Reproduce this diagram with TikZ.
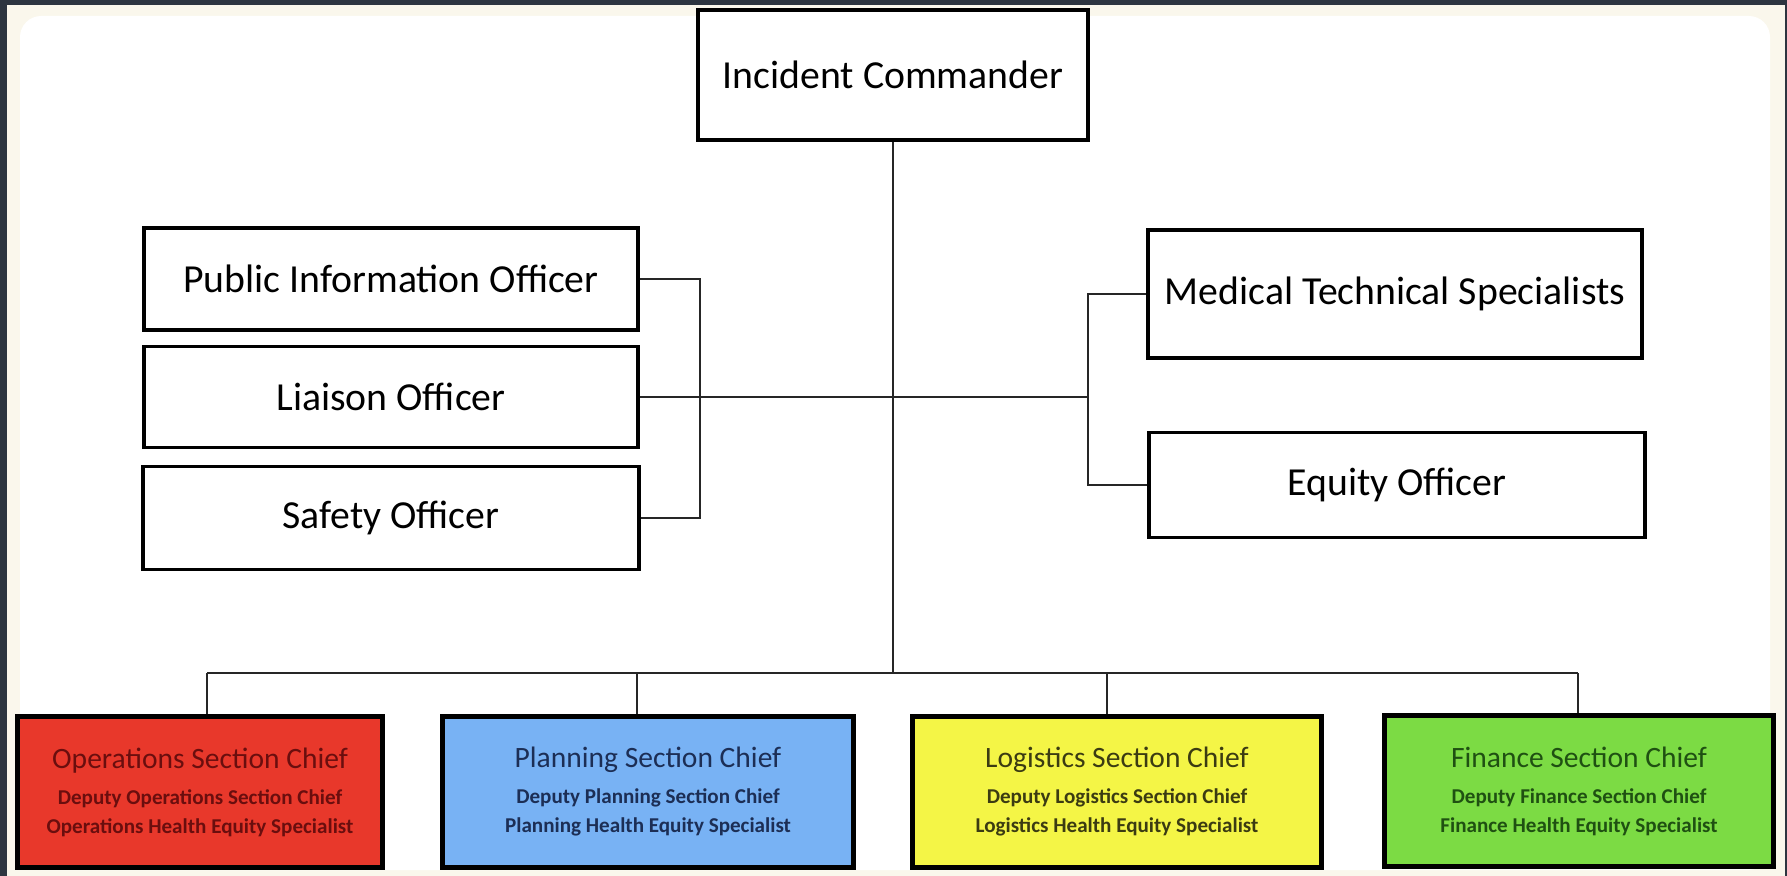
\documentclass[tikz,border=0pt]{standalone}
\usepackage{fontspec}
\setmainfont{Carlito}

\definecolor{frame}{HTML}{2D3540}
\definecolor{paper}{HTML}{FAF7EC}
\definecolor{opsfill}{HTML}{E8382B}
\definecolor{opstext}{HTML}{6A0E0E}
\definecolor{planfill}{HTML}{78B2F4}
\definecolor{plantext}{HTML}{1C2E55}
\definecolor{logfill}{HTML}{F4F546}
\definecolor{logtext}{HTML}{3B3B12}
\definecolor{finfill}{HTML}{7CDB44}
\definecolor{fintext}{HTML}{1F5012}

\begin{document}
\begin{tikzpicture}[x=0.01cm,y=-0.01cm]
        \tikzstyle{officer}=[draw, line width=1.1pt, fill=white, inner sep=0pt, font=\fontsize{11.3}{13}\selectfont]
        \tikzstyle{section}=[draw, line width=1.4pt, inner sep=0pt, minimum height=1.5cm, align=center, font=\fontsize{6}{8.25}\selectfont\bfseries]
        \tikzstyle{wire}=[line width=0.65pt, draw=black!85]

        \useasboundingbox (0,0) rectangle (1787,876);
        \fill[frame] (0,0) rectangle (1787,876);
        \fill[paper] (7,5) rectangle (1785,876);
        \fill[white, rounded corners=6pt] (20,16) rectangle (1770,870);

        \node[officer, minimum width=3.9cm, minimum height=1.3cm](ic)at(893,75){Incident Commander};

        \node[officer, minimum width=4.94cm, minimum height=1.02cm](pio)at(391,279){Public Information Officer};
        \node[officer, minimum width=4.94cm, minimum height=1.01cm](lo)at(391,397){Liaison Officer};
        \node[officer, minimum width=4.95cm, minimum height=1.03cm](so)at(391,518){Safety Officer};

        \node[officer, minimum width=4.94cm, minimum height=1.28cm](mts)at(1395,294){Medical Technical Specialists};
        \node[officer, minimum width=4.95cm, minimum height=1.05cm](eo)at(1397,485){Equity Officer};

        \node[section, fill=opsfill, text=opstext, minimum width=3.65cm](ops)at(200,792){{\fontsize{8.4}{10}\selectfont\mdseries Operations Section Chief}\\[2pt]Deputy Operations Section Chief\\Operations Health Equity Specialist};
        \node[section, fill=planfill, text=plantext, minimum width=4.1cm](plan)at(648,792){{\fontsize{8.4}{10}\selectfont\mdseries Planning Section Chief}\\[2pt]Deputy Planning Section Chief\\Planning Health Equity Specialist};
        \node[section, fill=logfill, text=logtext, minimum width=4.09cm](log)at(1117,792){{\fontsize{8.4}{10}\selectfont\mdseries Logistics Section Chief}\\[2pt]Deputy Logistics Section Chief\\Logistics Health Equity Specialist};
        \node[section, fill=finfill, text=fintext, minimum width=3.88cm](fin)at(1579,791){{\fontsize{8.4}{10}\selectfont\mdseries Finance Section Chief}\\[2pt]Deputy Finance Section Chief\\Finance Health Equity Specialist};

        \coordinate(hub)at(893,673);
        \coordinate(b1)at(207,673);
        \coordinate(b2)at(637,673);
        \coordinate(b3)at(1107,673);
        \coordinate(b4)at(1578,673);
        \coordinate(lbr)at(700,397);
        \coordinate(rbr)at(1088,397);

        \draw[wire] (ic) -- (hub);
        \draw[wire] (b1) -- (b4);
        \draw[wire] (b1) -- (b1 |- ops.north);
        \draw[wire] (b2) -- (b2 |- plan.north);
        \draw[wire] (b3) -- (b3 |- log.north);
        \draw[wire] (b4) -- (b4 |- fin.north);

        \draw[wire] (pio.east) -| (lbr) |- (so.east);
        \draw[wire] (lo.east) -- (rbr);
        \draw[wire] (mts.west) -| (rbr) |- (eo.west);
    \end{tikzpicture}
\end{document}
